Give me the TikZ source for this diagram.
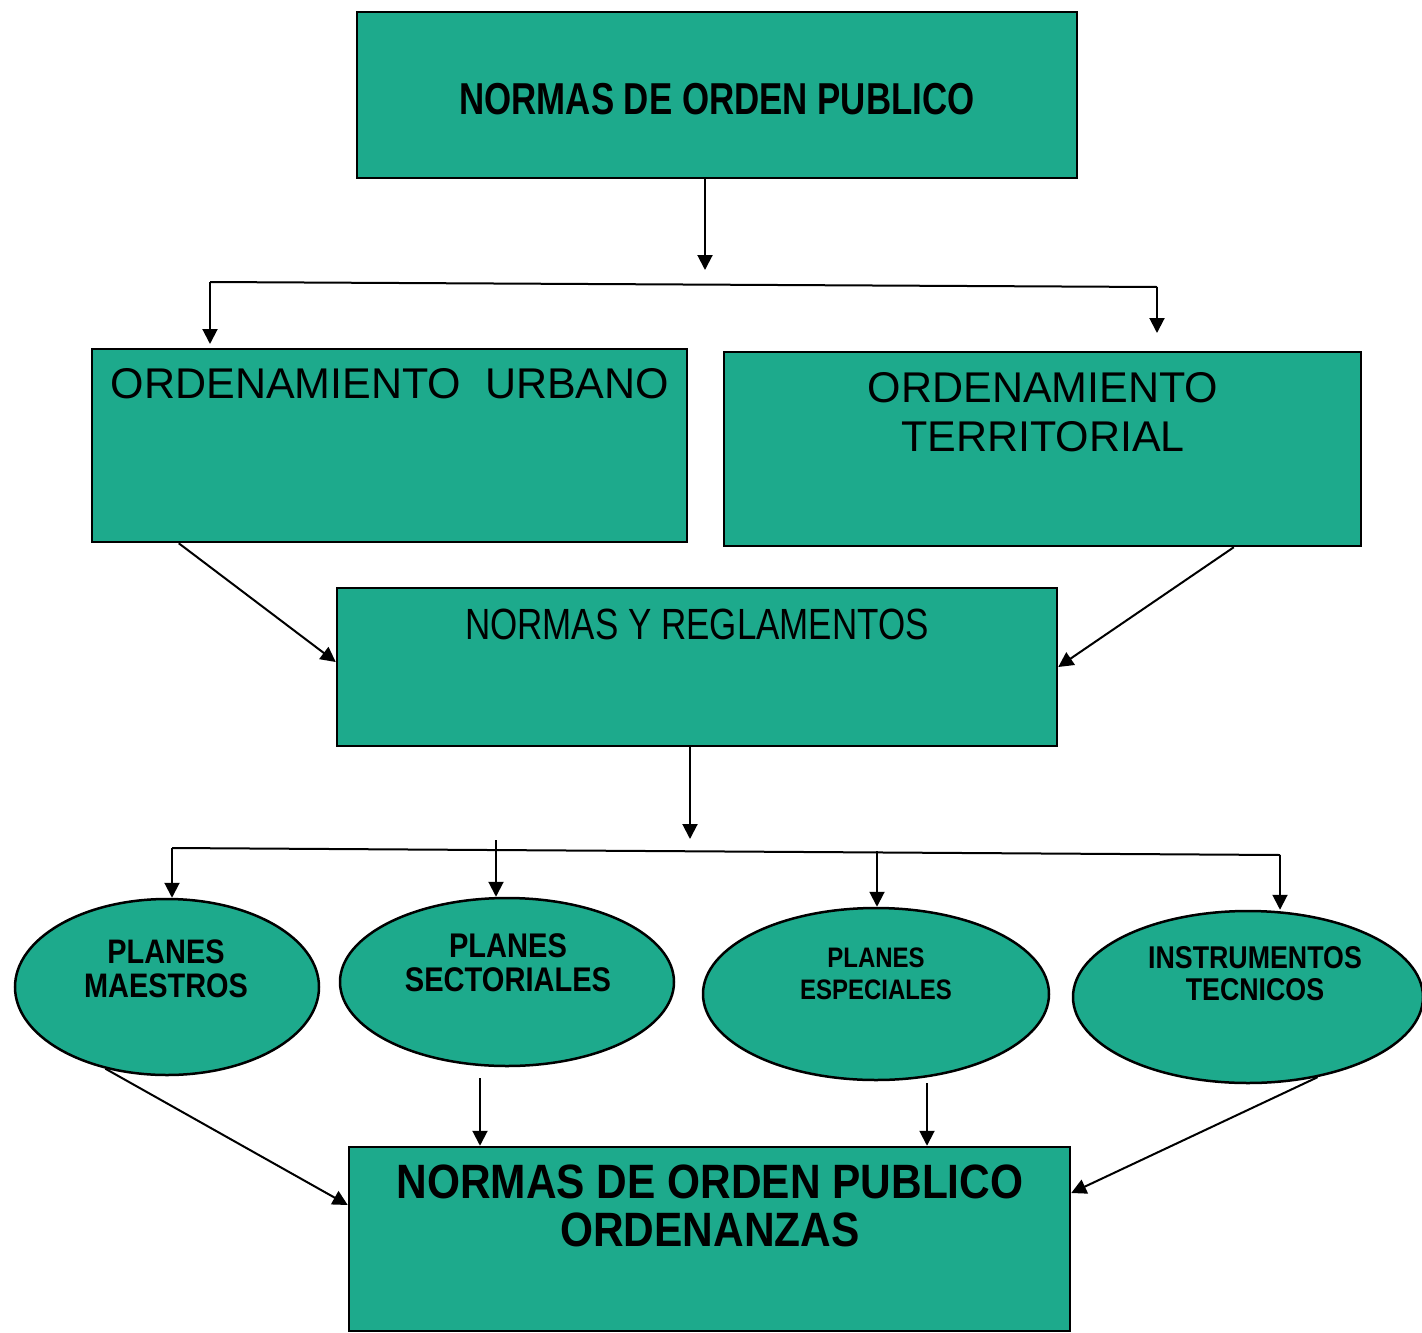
\documentclass[tikz,border=0pt]{standalone}
\usepackage{fontspec}
\setmainfont{Liberation Sans}
\newfontfamily\fTop{Liberation Sans}[FakeStretch=0.78]
\newfontfamily\fBot{Liberation Sans}[FakeStretch=0.88]
\newfontfamily\fEll{Liberation Sans}[FakeStretch=0.85]
\newfontfamily\fNR{Liberation Sans}[FakeStretch=0.8]
\newfontfamily\fReg{Liberation Sans}
\usetikzlibrary{shapes.geometric,arrows.meta}
\definecolor{tealfill}{HTML}{1DAA8C}
\begin{document}
\begin{tikzpicture}[x=1pt,y=-1pt,
  box/.style={draw=black,line width=2.5pt,fill=tealfill,rectangle,inner sep=0pt},
  ell/.style={draw=black,line width=2.5pt,fill=tealfill,ellipse,inner sep=0pt},
  txt/.style={inner sep=0pt,align=center,text=black},
  ln/.style={line width=2pt,draw=black},
  arr/.style={line width=2pt,draw=black,-{Triangle[length=15pt,width=15pt]}}]
\useasboundingbox (0,0) rectangle (1422,1333);
\fill[white] (0,0) rectangle (1422,1333);

% boxes
\node[box,minimum width=720pt,minimum height=166pt] (top) at (717,95) {};
\node[txt,font=\fTop\bfseries\fontsize{44.7}{50}\selectfont] (toptxt) at (717,99) {NORMAS DE ORDEN PUBLICO};

\node[box,minimum width=595pt,minimum height=193pt] (ou) at (389.5,445.5) {};
\node[txt,font=\fReg\fontsize{43}{49}\selectfont] (outxt) at (390,384) {ORDENAMIENTO~~URBANO};

\node[box,minimum width=637pt,minimum height=194pt] (ot) at (1042.5,449) {};
\node[txt,font=\fReg\fontsize{43}{49}\selectfont] (ottxt) at (1043,412) {ORDENAMIENTO\\TERRITORIAL};

\node[box,minimum width=720pt,minimum height=158pt] (nr) at (697,667) {};
\node[txt,font=\fNR\fontsize{43.7}{49}\selectfont] (nrtxt) at (697,624) {NORMAS Y REGLAMENTOS};

\node[box,minimum width=721pt,minimum height=184pt] (bot) at (709.5,1239) {};
\node[txt,font=\fBot\bfseries\fontsize{48.2}{48}\selectfont] (bottxt) at (710,1206) {NORMAS DE ORDEN PUBLICO\\ORDENANZAS};

% ellipses
\node[ell,minimum width=304pt,minimum height=176pt] (pm) at (167,987) {};
\node[txt,font=\fEll\bfseries\fontsize{34}{34}\selectfont] (pmtxt) at (166,969) {PLANES\\MAESTROS};

\node[ell,minimum width=334pt,minimum height=168pt] (ps) at (507,982) {};
\node[txt,font=\fEll\bfseries\fontsize{34.2}{34}\selectfont] (pstxt) at (508,963) {PLANES\\SECTORIALES};

\node[ell,minimum width=346pt,minimum height=172pt] (pe) at (876,994) {};
\node[txt,font=\fEll\bfseries\fontsize{28.2}{32}\selectfont] (petxt) at (876,974) {PLANES\\ESPECIALES};

\node[ell,minimum width=350pt,minimum height=172pt] (it) at (1248,997) {};
\node[txt,font=\fEll\bfseries\fontsize{31.5}{32}\selectfont] (ittxt) at (1255,974) {INSTRUMENTOS\\TECNICOS};

% first connector group
\coordinate (j1) at (705,270);
\coordinate (hL) at (210,282);
\coordinate (hR) at (1157,287);
\coordinate (aL) at (210,344);
\coordinate (aR) at (1157,333);
\draw[arr] (top.south -| j1) -- (j1);
\draw[ln] (hL) -- (hR);
\draw[arr] (hL) -- (aL);
\draw[arr] (hR) -- (aR);

% diagonals to NR
\draw[arr] ([xshift=88pt]ou.south west) -- ([yshift=5pt]nr.west);
\draw[arr] ([xshift=511pt]ot.south west) -- (nr.east);

% second connector group
\coordinate (j2) at (690,839);
\coordinate (gL) at (172,848);
\coordinate (gR) at (1280,855);
\coordinate (g2) at (496,840);
\coordinate (g3) at (877,851);
\draw[arr] ([xshift=-7pt]nr.south) -- (j2);
\draw[ln] (gL) -- (gR);
\draw[arr] (gL) -- (gL |- pm.north);
\draw[arr] (g2) -- (g2 |- ps.north);
\draw[arr] (g3) -- (g3 |- pe.north);
\draw[arr] (gR) -- (gR |- it.north);

% to bottom box
\coordinate (k2) at (480,1078);
\coordinate (k3) at (927,1083);
\draw[arr] (pm.233) -- ([yshift=34pt]bot.west);
\draw[arr] (k2) -- (k2 |- bot.north);
\draw[arr] (k3) -- (k3 |- bot.north);
\draw[arr] (it.311) -- ([yshift=46pt]bot.east);
\end{tikzpicture}
\end{document}
